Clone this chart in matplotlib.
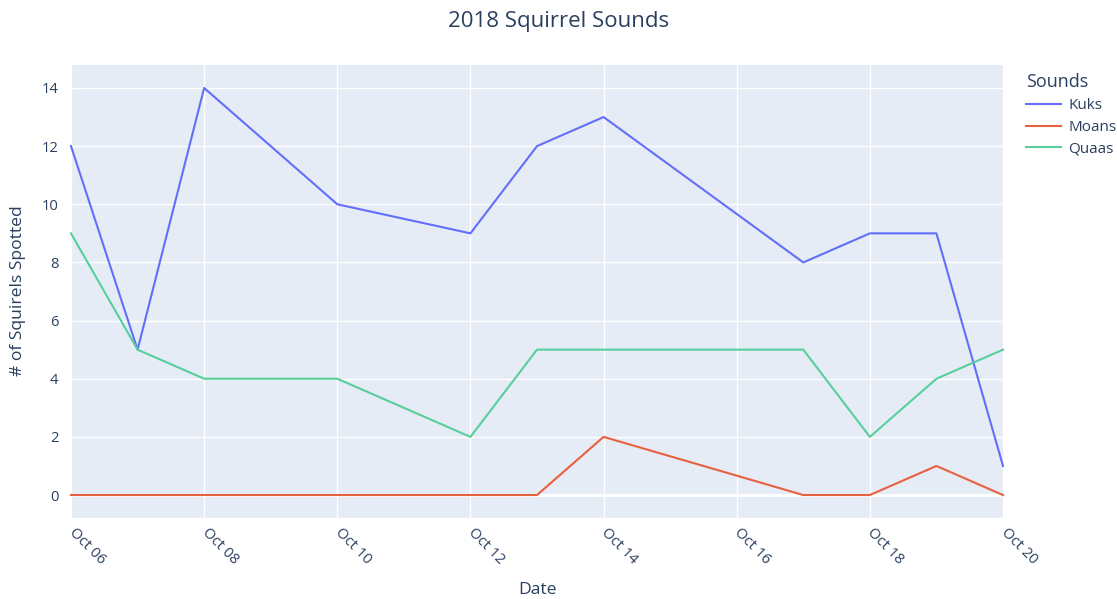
import matplotlib.dates as mdates
import matplotlib.pyplot as plt
import pandas as pd

plt.rcParams["font.family"] = ["Open Sans", "DejaVu Sans"]

# Data
dates = pd.to_datetime([
    "2018-10-06", "2018-10-07", "2018-10-08", "2018-10-10", "2018-10-12", "2018-10-13",
    "2018-10-14", "2018-10-17", "2018-10-18", "2018-10-19", "2018-10-20",
])
kuks = [12, 5, 14, 10, 9, 12, 13, 8, 9, 9, 1]
moans = [0, 0, 0, 0, 0, 0, 2, 0, 0, 1, 0]
quaas = [9, 5, 4, 4, 2, 5, 5, 5, 2, 4, 5]

series = {"Kuks": kuks, "Moans": moans, "Quaas": quaas}
colors = {"Kuks": "#636efa", "Moans": "#e8603f", "Quaas": "#57cf9c"}
text_color = "#2a3f5f"

fig = plt.figure(figsize=(11.17, 5.99), dpi=100)
ax = fig.add_axes([71 / 1117, 1 - 518 / 599, (1003 - 71) / 1117, (518 - 65) / 599])
ax.set_facecolor("#E5ECF6")

for name, vals in series.items():
    ax.plot(dates, vals, color=colors[name], linewidth=1.5, label=name, zorder=3, clip_on=False)

ax.set_xlim(dates[0], dates[-1])
ax.set_ylim(-0.79, 14.79)
ax.set_yticks(range(0, 15, 2))
ax.xaxis.set_major_locator(mdates.DayLocator(bymonthday=range(6, 21, 2)))
ax.xaxis.set_major_formatter(mdates.DateFormatter("%b %d"))

ax.grid(True, color="white", linewidth=1)
ax.axhline(0, color="white", linewidth=2, zorder=2)
ax.set_axisbelow(True)
for s in ax.spines.values():
    s.set_visible(False)

ax.tick_params(axis="both", length=0, labelsize=10.6, labelcolor=text_color)
ax.tick_params(axis="y", pad=9)
ax.tick_params(axis="x", pad=9)
for lbl in ax.get_xticklabels():
    lbl.set_rotation(-45)
    lbl.set_ha("left")
    lbl.set_va("center")
    lbl.set_rotation_mode("anchor")

fig.text(537 / 1117, 1 - 590 / 599, "Date", ha="center", va="center", fontsize=12.6, color=text_color)
fig.text(18 / 1117, 1 - 291 / 599, "# of Squirels Spotted", ha="center", va="center",
         rotation=90, fontsize=12.6, color=text_color)

fig.text(0.5, 1 - 22 / 599, "2018 Squirrel Sounds", ha="center", va="center", fontsize=16, color=text_color)

leg = fig.legend(
    loc="upper left",
    bbox_to_anchor=(1020 / 1117, 1 - 67 / 599),
    frameon=False,
    title="Sounds",
    fontsize=11,
    title_fontsize=13,
    handlelength=2.3,
    handletextpad=0.45,
    labelspacing=0.45,
    alignment="left",
    borderaxespad=0,
)
for t in leg.get_texts():
    t.set_color(text_color)
leg.get_title().set_color(text_color)

fig.savefig("out.png", dpi=100)
